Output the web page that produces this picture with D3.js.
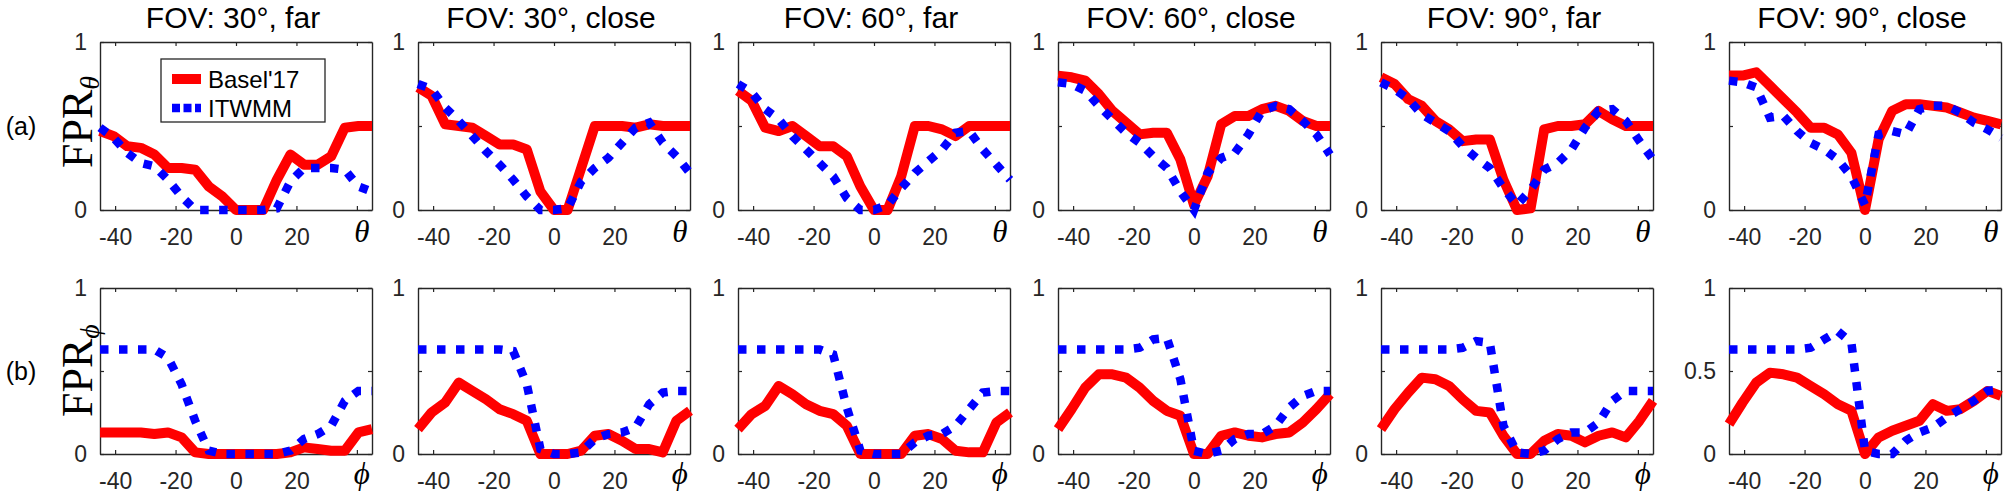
<!DOCTYPE html>
<html>
<head>
<meta charset="utf-8">
<script src="https://cdn.jsdelivr.net/npm/d3@7"></script>
<style>
  body { margin: 0; background: #fff; }
  svg { display: block; }
  text { font-family: "Liberation Sans", Arial, sans-serif; }
</style>
</head>
<body>
<svg class="main-graphic"></svg>
<script>
// yaw / pitch angles sampled in the experiment
var angles = [-45, -40.5, -36, -31.5, -27, -22.5, -18, -13.5, -9, -4.5, 0,
              4.5, 9, 13.5, 18, 22.5, 27, 31.5, 36, 40.5, 45];

var titles = ["FOV: 30°, far", "FOV: 30°, close", "FOV: 60°, far",
              "FOV: 60°, close", "FOV: 90°, far", "FOV: 90°, close"];
var rowTags = ["(a)", "(b)"];
var xTicks = [-40, -20, 0, 20, 40];
var yTicks = [0, 0.5, 1];
var seriesNames = ["Basel'17", "ITWMM"];

// row (a): FPR over theta
var baselTheta = [
  [0.47, 0.44, 0.38, 0.37, 0.33, 0.25, 0.25, 0.24, 0.14, 0.08, 0, 0, 0, 0.18, 0.33, 0.27, 0.27, 0.32, 0.49, 0.5, 0.5],
  [0.73, 0.68, 0.51, 0.5, 0.49, 0.44, 0.39, 0.39, 0.36, 0.11, 0, 0, 0.25, 0.5, 0.5, 0.5, 0.49, 0.51, 0.5, 0.5, 0.5],
  [0.71, 0.65, 0.49, 0.47, 0.5, 0.44, 0.38, 0.38, 0.32, 0.14, 0, 0, 0.2, 0.5, 0.5, 0.48, 0.44, 0.5, 0.5, 0.5, 0.5],
  [0.8, 0.79, 0.77, 0.69, 0.59, 0.52, 0.45, 0.46, 0.46, 0.3, 0.03, 0.2, 0.51, 0.56, 0.56, 0.6, 0.62, 0.59, 0.53, 0.5, 0.5],
  [0.79, 0.75, 0.66, 0.62, 0.53, 0.48, 0.41, 0.42, 0.42, 0.18, 0, 0.01, 0.48, 0.5, 0.5, 0.51, 0.59, 0.54, 0.5, 0.5, 0.5],
  [0.8, 0.8, 0.82, 0.74, 0.66, 0.58, 0.49, 0.49, 0.45, 0.34, 0, 0.42, 0.59, 0.63, 0.63, 0.62, 0.61, 0.58, 0.55, 0.53, 0.51]
];
var itwmmTheta = [
  [0.49, 0.43, 0.34, 0.28, 0.26, 0.18, 0.08, 0, 0, 0, 0, 0, 0, 0.01, 0.17, 0.25, 0.25, 0.25, 0.24, 0.14, 0.11],
  [0.75, 0.72, 0.61, 0.53, 0.44, 0.35, 0.27, 0.18, 0.08, 0, 0, 0.01, 0.17, 0.25, 0.31, 0.4, 0.49, 0.52, 0.4, 0.32, 0.22],
  [0.75, 0.7, 0.6, 0.54, 0.44, 0.36, 0.28, 0.2, 0.07, 0, 0, 0.03, 0.13, 0.22, 0.29, 0.36, 0.46, 0.47, 0.36, 0.27, 0.18],
  [0.76, 0.75, 0.71, 0.62, 0.54, 0.46, 0.4, 0.32, 0.25, 0.11, 0, 0.22, 0.31, 0.34, 0.45, 0.59, 0.62, 0.6, 0.53, 0.45, 0.33],
  [0.76, 0.72, 0.66, 0.57, 0.52, 0.47, 0.38, 0.31, 0.25, 0.13, 0.03, 0.12, 0.24, 0.28, 0.36, 0.49, 0.59, 0.6, 0.53, 0.41, 0.3],
  [0.77, 0.76, 0.73, 0.55, 0.56, 0.47, 0.4, 0.36, 0.3, 0.2, 0.03, 0.45, 0.47, 0.45, 0.6, 0.62, 0.62, 0.58, 0.52, 0.48, 0.43]
];

// row (b): FPR over phi
var baselPhi = [
  [0.13, 0.13, 0.13, 0.13, 0.12, 0.13, 0.1, 0.01, 0, 0, 0, 0, 0, 0, 0.01, 0.04, 0.03, 0.02, 0.02, 0.13, 0.15],
  [0.15, 0.25, 0.31, 0.43, 0.38, 0.33, 0.27, 0.24, 0.2, 0, 0, 0, 0.02, 0.11, 0.12, 0.08, 0.03, 0.03, 0.01, 0.2, 0.26],
  [0.15, 0.24, 0.29, 0.41, 0.36, 0.3, 0.26, 0.24, 0.17, 0, 0, 0, 0, 0.11, 0.12, 0.09, 0.02, 0.01, 0.01, 0.19, 0.25],
  [0.15, 0.27, 0.4, 0.48, 0.48, 0.46, 0.4, 0.32, 0.26, 0.23, 0, 0, 0.11, 0.13, 0.11, 0.1, 0.12, 0.13, 0.19, 0.27, 0.36],
  [0.15, 0.27, 0.37, 0.46, 0.45, 0.41, 0.33, 0.26, 0.25, 0.11, 0, 0, 0.08, 0.12, 0.11, 0.07, 0.11, 0.13, 0.1, 0.2, 0.32],
  [0.18, 0.31, 0.43, 0.49, 0.48, 0.46, 0.41, 0.36, 0.3, 0.26, 0, 0.1, 0.14, 0.17, 0.2, 0.3, 0.26, 0.27, 0.32, 0.38, 0.35]
];
var itwmmPhi = [
  [0.63, 0.63, 0.63, 0.63, 0.63, 0.58, 0.42, 0.2, 0.02, 0, 0, 0, 0, 0, 0.02, 0.09, 0.12, 0.17, 0.32, 0.38, 0.38],
  [0.63, 0.63, 0.63, 0.63, 0.63, 0.63, 0.63, 0.62, 0.42, 0.03, 0, 0, 0.01, 0.09, 0.12, 0.13, 0.16, 0.3, 0.37, 0.38, 0.38],
  [0.63, 0.63, 0.63, 0.63, 0.63, 0.63, 0.63, 0.6, 0.28, 0.02, 0, 0, 0, 0.07, 0.11, 0.12, 0.17, 0.27, 0.37, 0.38, 0.38],
  [0.63, 0.63, 0.63, 0.63, 0.63, 0.63, 0.64, 0.69, 0.7, 0.45, 0.02, 0, 0.02, 0.09, 0.12, 0.12, 0.17, 0.28, 0.35, 0.38, 0.38],
  [0.63, 0.63, 0.63, 0.63, 0.63, 0.63, 0.64, 0.68, 0.67, 0.17, 0.01, 0, 0.02, 0.09, 0.13, 0.13, 0.19, 0.32, 0.38, 0.38, 0.38],
  [0.63, 0.63, 0.63, 0.63, 0.63, 0.63, 0.64, 0.69, 0.74, 0.67, 0.02, 0, 0, 0.08, 0.13, 0.16, 0.22, 0.27, 0.32, 0.38, 0.39]
];

var width = 2010, height = 495;
var panelLeft = [100, 418, 738, 1058, 1381, 1729];
var panelW = 272;
var rows = [
  {top: 42, h: 168, basel: baselTheta, itwmm: itwmmTheta, sym: "θ"},
  {top: 288, h: 166, basel: baselPhi, itwmm: itwmmPhi, sym: "ϕ"}
];
var axisColor = "#262626";

var svg = d3.select(".main-graphic")
    .attr("width", width)
    .attr("height", height);

var x = d3.scaleLinear().domain([-45, 45]).range([0, panelW]);

rows.forEach(function(row, r) {
  var y = d3.scaleLinear().domain([0, 1]).range([row.h, 0]);

  var line = d3.line()
      .x(function(d, i) { return x(angles[i]); })
      .y(function(d) { return y(d); });

  panelLeft.forEach(function(left, p) {
    var g = svg.append("g")
        .attr("class", "panel")
        .attr("transform", "translate(" + left + "," + row.top + ")");

    var showHalf = (r == 1 && p == 5);

    g.append("g")
        .attr("transform", "translate(0," + row.h + ")")
        .call(d3.axisBottom(x).tickValues(xTicks).tickSizeInner(-4).tickSizeOuter(0).tickPadding(19)
          .tickFormat(function(d) { return d == 40 ? "" : String(d); }));
    g.append("g")
        .call(d3.axisTop(x).tickValues(xTicks).tickSizeInner(-4).tickSizeOuter(0).tickFormat(""));
    g.append("g")
        .call(d3.axisLeft(y).tickValues(yTicks).tickSizeInner(-4).tickSizeOuter(0).tickPadding(13)
          .tickFormat(function(d) { return (d == 0.5 && !showHalf) ? "" : String(d); }));
    g.append("g")
        .attr("transform", "translate(" + panelW + ",0)")
        .call(d3.axisRight(y).tickValues(yTicks).tickSizeInner(-4).tickSizeOuter(0).tickFormat(""));

    g.selectAll(".domain").attr("stroke", axisColor).attr("stroke-width", 1.4);
    g.selectAll(".tick line").attr("stroke", axisColor).attr("stroke-width", 1.2);
    g.selectAll(".tick text")
        .attr("fill", axisColor)
        .style("font-size", "23px")
        .style("font-family", "'Liberation Sans', Arial, sans-serif");

    // angle symbol in place of the 40 tick label
    g.append("text")
        .attr("x", x(40) + 5)
        .attr("y", row.h + (r == 0 ? 32 : 30))
        .attr("text-anchor", "middle")
        .style("font-family", "'Liberation Serif', 'Times New Roman', serif")
        .style("font-style", "italic")
        .style("font-size", "31px")
        .attr("fill", "#000")
        .text(row.sym);

    g.append("path")
        .datum(row.basel[p])
        .attr("fill", "none")
        .attr("stroke", "#ff0000")
        .attr("stroke-width", 10)
        .attr("stroke-linejoin", "round")
        .attr("d", line);

    g.append("path")
        .datum(row.itwmm[p])
        .attr("fill", "none")
        .attr("stroke", "#0000ff")
        .attr("stroke-width", 8.5)
        .attr("stroke-dasharray", "8.5,10.5")
        .attr("d", line);

    if (r == 0) {
      g.append("text")
          .attr("x", panelW / 2 - 3)
          .attr("y", -14)
          .attr("text-anchor", "middle")
          .style("font-size", "30px")
          .attr("fill", "#000")
          .text(titles[p]);
    }
  });

  // row tag and y label
  svg.append("text")
      .attr("x", 21)
      .attr("y", row.top + row.h / 2 + 9)
      .attr("text-anchor", "middle")
      .style("font-size", "25px")
      .attr("fill", "#000")
      .text(rowTags[r]);

  var ylab = svg.append("text")
      .attr("transform", "translate(92," + (row.top + row.h / 2 + (r == 0 ? 42 : 46)) + ") rotate(-90)")
      .style("font-family", "'Liberation Serif', 'Times New Roman', serif")
      .style("font-size", "44px")
      .attr("fill", "#000");
  ylab.append("tspan").text("FPR");
  ylab.append("tspan")
      .attr("dy", 7)
      .style("font-size", "28px")
      .style("font-style", "italic")
      .text(row.sym);
});

// legend in the first panel
var leg = svg.append("g")
    .attr("transform", "translate(161,59)");
leg.append("rect")
    .attr("width", 164)
    .attr("height", 63)
    .attr("fill", "#fff")
    .attr("stroke", axisColor)
    .attr("stroke-width", 1.3);
var legColors = ["#ff0000", "#0000ff"];
seriesNames.forEach(function(name, i) {
  var ly = 20 + i * 29;
  leg.append("line")
      .attr("x1", 11).attr("x2", 40)
      .attr("y1", ly).attr("y2", ly)
      .attr("stroke", legColors[i])
      .attr("stroke-width", i == 0 ? 10 : 8.5)
      .attr("stroke-dasharray", i == 0 ? null : "8,3.5");
  leg.append("text")
      .attr("x", 47)
      .attr("y", ly + 9)
      .style("font-size", "24px")
      .attr("fill", "#000")
      .text(name);
});
</script>
</body>
</html>
